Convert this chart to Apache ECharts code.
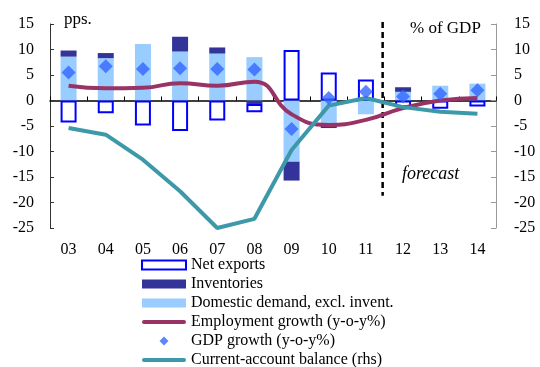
<!DOCTYPE html>
<html>
<head>
<meta charset="utf-8">
<script src="https://cdn.jsdelivr.net/npm/echarts@6/dist/echarts.min.js"></script>
<style>
html,body{margin:0;padding:0;background:#fff;}
#chart{width:540px;height:367px;}
</style>
</head>
<body>
<div id="chart"></div>
<script>
var categories = ['03','04','05','06','07','08','09','10','11','12','13','14'];
var domesticDemand = [8.6, 8.3, 11.1, 9.6, 9.2, 8.5, -12.0, -4.6, -2.7, 1.7, 2.9, 3.3];
var inventories = [1.2, 1.0, 0, 2.9, 1.2, -0.7, -3.7, -0.8, 0, 0.9, 0, 0];
var netExports = [-4.3, -2.5, -4.9, -6.0, -3.9, -1.6, 9.9, 5.5, 4.1, -1.3, -1.6, -1.2];
var employmentGrowth = [2.9, 2.4, 2.5, 3.4, 2.9, 3.7, -2.7, -4.8, -3.8, -1.5, 0.0, 0.5];
var gdpGrowth = [5.5, 6.7, 6.2, 6.3, 6.2, 6.1, -5.6, 0.5, 1.7, 0.8, 1.3, 2.0];
var currentAccount = [-5.4, -6.7, -11.6, -17.8, -25.0, -23.2, -9.7, -1.0, 0.5, -1.3, -2.2, -2.6];
var forecastDivider = 8.45;          // position between 2011 and 2012, in category units
var forecastDividerRange = [15.4, -18.7];
var yTicks = {min: -25, max: 15, interval: 5};

var FONT = '"Liberation Serif", "Times New Roman", serif';
var LINE_ICON = 'path://M2,0 L42,0 A2,2 0 0 1 42,4 L2,4 A2,2 0 0 1 2,0 Z';
var DIAMOND_ICON = 'path://M0,4.5 L4.5,0 L9,4.5 L4.5,9 Z';
var chart = echarts.init(document.getElementById('chart'), null, {renderer: 'canvas'});

var option = {
  animation: false,
  backgroundColor: '#fff',
  textStyle: {fontFamily: FONT, color: '#000'},
  grid: {left: 50, right: 44, top: 24, bottom: 139},
  xAxis: [
    {
      type: 'category', data: categories, position: 'bottom',
      axisLine: {show: false, onZero: false},
      axisTick: {show: false},
      axisLabel: {fontFamily: FONT, fontSize: 16, color: '#000', margin: 14}
    },
    {
      type: 'category', data: categories, position: 'bottom',
      axisLine: {show: true, onZero: true, lineStyle: {color: '#000', width: 1.5}},
      axisTick: {show: true, inside: true, length: 4, lineStyle: {color: '#000'}},
      axisLabel: {show: false}
    },
    {
      type: 'value', min: -0.5, max: 11.5, show: false
    }
  ],
  yAxis: [
    {
      type: 'value', min: yTicks.min, max: yTicks.max, interval: yTicks.interval,
      axisLine: {show: true, onZero: false, lineStyle: {color: '#333', width: 1}},
      axisTick: {show: true, inside: true, length: 4, lineStyle: {color: '#333'}},
      splitLine: {show: false},
      axisLabel: {fontFamily: FONT, fontSize: 16, color: '#000', margin: 16}
    },
    {
      type: 'value', min: yTicks.min, max: yTicks.max, interval: yTicks.interval, position: 'right',
      axisLine: {show: true, onZero: false, lineStyle: {color: '#999', width: 1}},
      axisTick: {show: true, inside: true, length: 5, lineStyle: {color: '#999'}},
      splitLine: {show: false},
      axisLabel: {fontFamily: FONT, fontSize: 16, color: '#000', margin: 18}
    }
  ],
  legend: {
    orient: 'vertical', left: 141, top: 257, height: 115, padding: 0,
    itemWidth: 44, itemHeight: 9, itemGap: 3,
    textStyle: {fontFamily: FONT, fontSize: 16, color: '#000', lineHeight: 16},
    data: [
      {name: 'Net exports', icon: 'rect'},
      {name: 'Inventories', icon: 'rect'},
      {name: 'Domestic demand, excl. invent.', icon: 'rect'},
      {name: 'Employment growth (y-o-y%)', icon: LINE_ICON},
      {name: 'GDP growth (y-o-y%)', icon: DIAMOND_ICON},
      {name: 'Current-account balance (rhs)', icon: LINE_ICON}
    ]
  },
  graphic: [
    {type: 'text', left: 64, top: 11, style: {text: 'pps.', font: '17px ' + FONT, fill: '#000'}},
    {type: 'text', left: 410, top: 20, style: {text: '% of GDP', font: '17px ' + FONT, fill: '#000'}},
    {type: 'text', left: 402, top: 165, style: {text: 'forecast', font: 'italic 18px ' + FONT, fill: '#000'}}
  ],
  series: [
    {
      name: 'Domestic demand, excl. invent.', type: 'bar', stack: 'g', barWidth: 16,
      itemStyle: {color: '#99CCFF'}, data: domesticDemand
    },
    {
      name: 'Inventories', type: 'bar', stack: 'g', barWidth: 16,
      itemStyle: {color: '#333399'}, data: inventories
    },
    {
      name: 'Net exports', type: 'bar', stack: 'g', barWidth: 16,
      itemStyle: {color: '#ffffff', borderColor: '#0000FF', borderWidth: 2}, data: netExports
    },
    {
      name: 'forecast-divider', type: 'line', xAxisIndex: 2, clip: false, silent: true,
      symbol: 'none', lineStyle: {color: '#000', width: 2.5, type: [6, 4]},
      data: [[forecastDivider, forecastDividerRange[0]], [forecastDivider, forecastDividerRange[1]]]
    },
    {
      name: 'Employment growth (y-o-y%)', type: 'line', smooth: 0.5, symbol: 'none',
      lineStyle: {color: '#993366', width: 4}, itemStyle: {color: '#993366'},
      data: employmentGrowth
    },
    {
      name: 'Current-account balance (rhs)', type: 'line', yAxisIndex: 1, symbol: 'none',
      lineStyle: {color: '#3D99AA', width: 4}, itemStyle: {color: '#3D99AA'},
      data: currentAccount
    },
    {
      name: 'GDP growth (y-o-y%)', type: 'scatter', symbol: 'diamond', symbolSize: 14,
      itemStyle: {color: '#3366FF'}, data: gdpGrowth, z: 5
    }
  ]
};
chart.setOption(option);
</script>
</body>
</html>
